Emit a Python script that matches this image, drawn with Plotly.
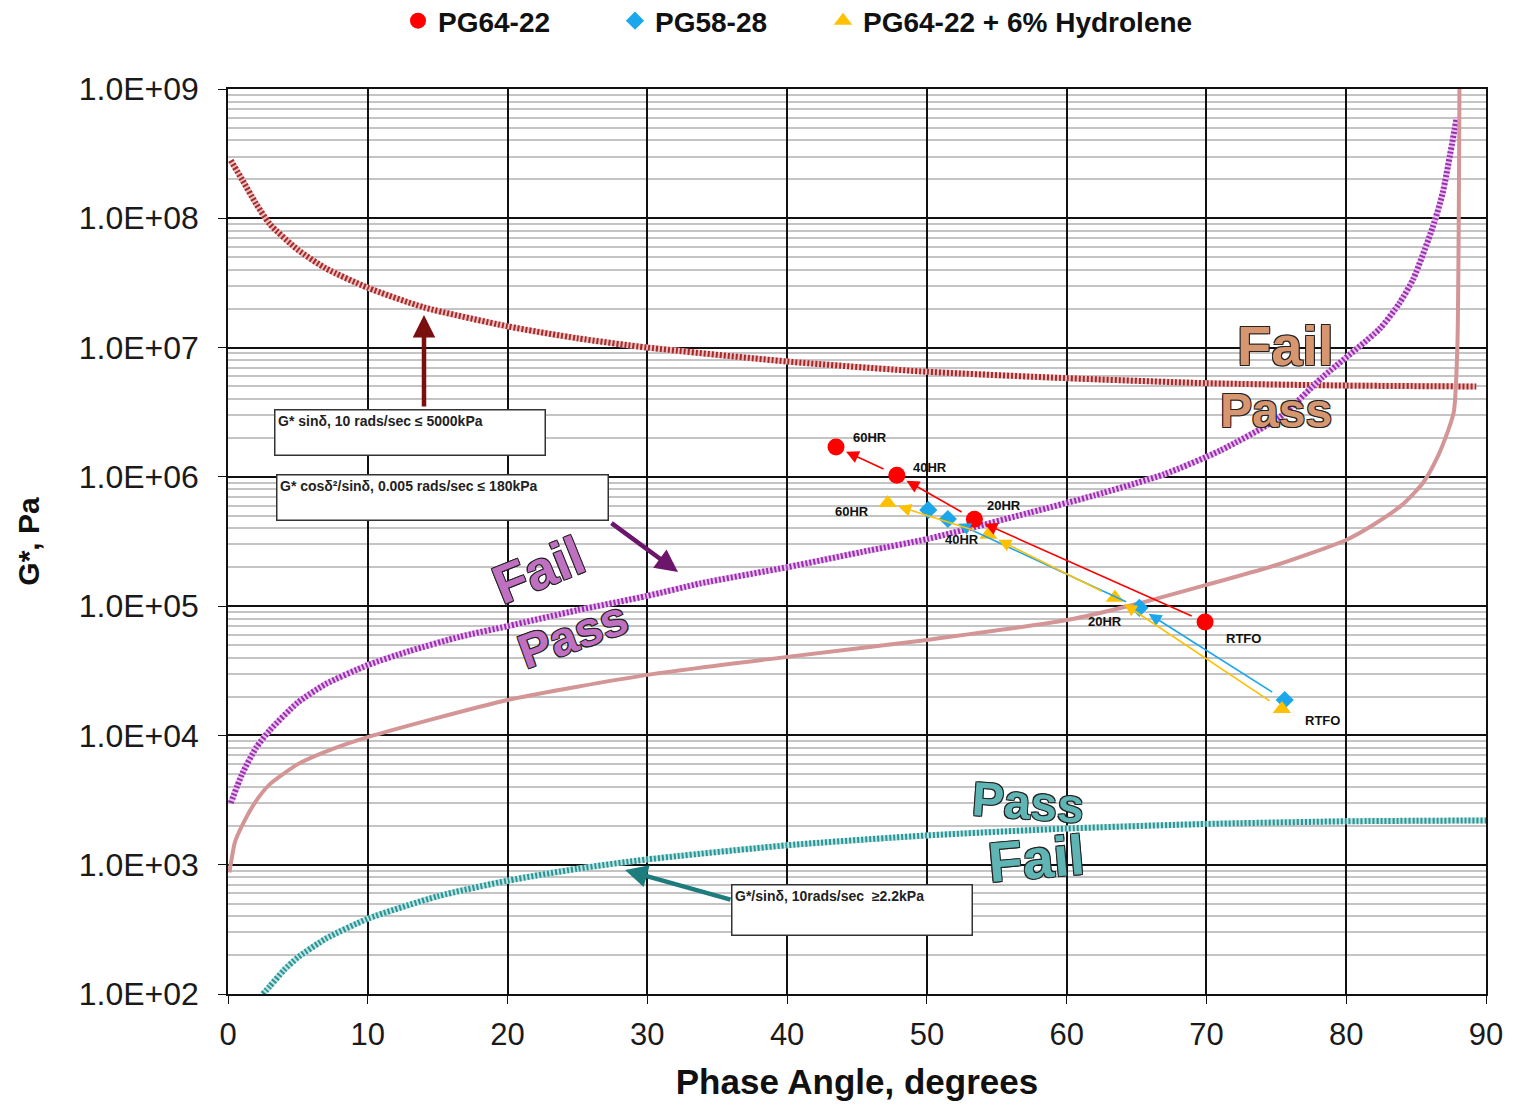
import numpy as np
import plotly.graph_objects as go

# ---------------- data ----------------
series_names = ["PG64-22", "PG58-28", "PG64-22 + 6% Hydrolene"]
aging_labels = ["RTFO", "20HR", "40HR", "60HR"]

pg6422_delta = [69.9, 53.4, 47.85, 43.5]
pg6422_gstar = [7.55e4, 4.7e5, 1.03e6, 1.70e6]

pg5828_delta = [75.6, 65.2, 51.5, 50.1]
pg5828_gstar = [1.88e4, 9.7e4, 4.72e5, 5.55e5]

hyd_delta = [75.4, 63.45, 54.4, 47.2]
hyd_gstar = [1.6e4, 1.16e5, 3.56e5, 6.28e5]

# G* sin(delta) <= 5000 kPa criterion curve
crit5000_delta = [0.2, 1, 2, 3, 5, 7, 10, 14, 20, 25, 30, 40, 50, 60, 70, 80, 89.3]
crit5000_gstar = [2.8e8, 2.0e8, 1.3e8, 9.0e7, 5.7e7, 4.1e7, 2.9e7, 2.05e7, 1.46e7, 1.18e7,
                  1.0e7, 7.8e6, 6.5e6, 5.8e6, 5.3e6, 5.08e6, 5.0e6]

# G* cos(delta)^2 / sin(delta) <= 180 kPa criterion curve
crit180_delta = [0.2, 1, 2, 3, 5, 7, 10, 13, 16.6, 20, 25, 30, 33.8, 40, 45.9, 50, 57.4,
                 62, 67, 71, 75.25, 78.3, 82.4, 83.8, 84.8, 86.2, 86.9, 87.9]
crit180_gstar = [3.0e3, 5.0e3, 8.0e3, 1.1e4, 1.8e4, 2.5e4, 3.5e4, 4.5e4, 5.8e4, 7.0e4, 9.3e4,
                 1.2e5, 1.5e5, 2.0e5, 2.7e5, 3.3e5, 5.3e5, 7.2e5, 1.05e6, 1.6e6, 2.9e6,
                 5.9e6, 1.4e7, 2.2e7, 3.4e7, 8.6e7, 1.57e8, 6.0e8]

# unlabeled solid pink curve
pink_delta = [0.1, 0.5, 1, 2, 3, 5, 7, 10, 20, 30, 40, 50, 60, 65, 70, 75, 80, 82, 84,
              85.5, 86.5, 87.3, 87.7, 87.95, 88.1]
pink_gstar = [8.7e2, 1.5e3, 2.0e3, 3.1e3, 4.2e3, 6.0e3, 7.5e3, 9.7e3, 1.88e4, 2.94e4,
              4.05e4, 5.48e4, 7.8e4, 1.04e5, 1.46e5, 2.08e5, 3.25e5, 4.3e5, 6.07e5,
              9.0e5, 1.4e6, 2.3e6, 3.2e6, 1.0e7, 1.0e9]

# G*/sin(delta) >= 2.2 kPa criterion curve
crit22_delta = [2.5, 3, 4, 5, 7, 10, 15, 20, 25, 30, 40, 50, 60, 70, 80, 90]
crit22_gstar = [100, 115, 153, 192, 268, 382, 570, 752, 930, 1100, 1414, 1685, 1905,
                2067, 2167, 2200]

x_tickvals = [0, 10, 20, 30, 40, 50, 60, 70, 80, 90]
y_tickvals = [1e2, 1e3, 1e4, 1e5, 1e6, 1e7, 1e8, 1e9]
y_ticktext = ["1.0E+02", "1.0E+03", "1.0E+04", "1.0E+05", "1.0E+06", "1.0E+07",
              "1.0E+08", "1.0E+09"]

# ---------------- styling ----------------
W, H = 1517, 1106
L, R, T, B = 228, 31, 89, 112
PW, PH = W - L - R, H - T - B
FONT = "Liberation Sans, Arial, sans-serif"


def px(xp):
    return (xp - L) / PW


def py(yp):
    return (H - B - yp) / PH


series = [
    (series_names[0], pg6422_delta, pg6422_gstar, "#ff0000", "circle", 17, "legend", 398),
    (series_names[1], pg5828_delta, pg5828_gstar, "#1aa7ec", "diamond", 14, "legend2", 615),
    (series_names[2], hyd_delta, hyd_gstar, "#ffc000", "triangle-up", 16, "legend3", 823),
]

fig = go.Figure()


def add_hatched(xs, ys, dark, light, width=6):
    fig.add_trace(go.Scatter(x=xs, y=ys, mode="lines",
                             line=dict(color=light, width=width, shape="spline", smoothing=0.6),
                             showlegend=False, hoverinfo="skip"))
    fig.add_trace(go.Scatter(x=xs, y=ys, mode="lines",
                             line=dict(color=dark, width=width, dash="2px,2px", shape="spline", smoothing=0.6),
                             showlegend=False, hoverinfo="skip"))


add_hatched(crit5000_delta, crit5000_gstar, "#a52a2a", "#ecc0c0")
add_hatched(crit180_delta, crit180_gstar, "#9a2fae", "#e8c2ee")
add_hatched(crit22_delta, crit22_gstar, "#2a9595", "#c0e4e4")
fig.add_trace(go.Scatter(x=pink_delta, y=pink_gstar, mode="lines",
                         line=dict(color="#d39595", width=4, shape="spline", smoothing=0.6),
                         showlegend=False, hoverinfo="skip"))

for name, d, g, col, sym, sz, lg, _ in series:
    fig.add_trace(go.Scatter(x=d, y=g, mode="markers", name=name, legend=lg,
                             marker=dict(color=col, symbol=sym, size=sz, line=dict(width=0))))

# arrows between aging states
for name, d, g, col, sym, sz, lg, _ in series:
    for i in range(len(d) - 1):
        fig.add_annotation(x=d[i + 1], y=np.log10(g[i + 1]), ax=d[i], ay=np.log10(g[i]),
                           xref="x", yref="y", axref="x", ayref="y", text="",
                           showarrow=True, arrowhead=2, arrowsize=1.6, arrowwidth=1.6,
                           arrowcolor=col, standoff=11, startstandoff=13)

# point labels: (series index, point index, xshift, yshift)
label_specs = [(0, 3, 34, 10), (0, 2, 33, 8), (0, 1, 30, 14), (0, 0, 38, -17),
               (2, 3, -36, -9), (2, 2, -26, -5), (2, 1, -10, -24), (1, 0, 38, -21)]
for si, pi, xs, ys in label_specs:
    d, g = series[si][1], series[si][2]
    fig.add_annotation(x=d[pi], y=np.log10(g[pi]), xref="x", yref="y", text=aging_labels[pi],
                       showarrow=False, xshift=xs, yshift=ys, xanchor="center", yanchor="middle",
                       font=dict(family=FONT, size=13, color="#111", weight="bold"))

# criterion text boxes
boxes = [
    ("G* sinδ, 10 rads/sec ≤ 5000kPa", 275, 545, 410, 455),
    ("G* cosδ²/sinδ, 0.005 rads/sec ≤ 180kPa", 277, 608, 475, 520),
    ("G*/sinδ, 10rads/sec  ≥2.2kPa", 732, 972, 885, 935),
]
for txt, x0, x1, y0, y1 in boxes:
    fig.add_annotation(x=px((x0 + x1) / 2), y=py((y0 + y1) / 2), xref="paper", yref="paper",
                       xanchor="center", yanchor="middle",
                       text=txt, showarrow=False, width=x1 - x0 - 6, height=y1 - y0 - 6,
                       align="left", valign="top", bgcolor="white", bordercolor="#333",
                       borderwidth=1.5, borderpad=2.5,
                       font=dict(family=FONT, size=14, color="#222", weight="bold"))

# pointer arrows from boxes to curves
pointers = [(424, 315, 0, 93, "#7a0f0f"), (678, 572, -68, -50, "#6b156b"), (625, 870, 107, 30, "#1d7d7d")]
for xp, yp, ax, ay, col in pointers:
    fig.add_annotation(x=px(xp), y=py(yp), xref="paper", yref="paper", text="", showarrow=True,
                       ax=ax, ay=ay, arrowhead=2, arrowsize=1.0, arrowwidth=4.5, arrowcolor=col)

# Fail / Pass word art
outline = "-1px -1px 0 #222, 1px -1px 0 #222, -1px 1px 0 #222, 1px 1px 0 #222"
words = [
    ("Fail", 1285, 345, 0, 56, "#d69670"),
    ("Pass", 1276, 410, 0, 48, "#d69670"),
    ("Fail", 538, 570, -22, 54, "#c070c0"),
    ("Pass", 573, 635, -20, 48, "#c070c0"),
    ("Pass", 1028, 802, 4, 48, "#5fb4b4"),
    ("Fail", 1036, 858, -5, 56, "#5fb4b4"),
]
for w, xp, yp, ang, sz, col in words:
    fig.add_annotation(x=px(xp), y=py(yp), xref="paper", yref="paper", text=w, showarrow=False,
                       xanchor="center", yanchor="middle", textangle=ang,
                       font=dict(family=FONT, size=sz, color=col, weight="bold", shadow=outline))

legend_common = dict(orientation="h", xref="container", yref="container", xanchor="left",
                     y=0.981, yanchor="middle", itemwidth=30, bgcolor="rgba(0,0,0,0)",
                     font=dict(family=FONT, size=28, color="#111", weight="bold"))
legends = {}
for s in series:
    legends[s[6]] = dict(legend_common, x=s[7] / W)

fig.update_layout(
    width=W, height=H, autosize=False,
    margin=dict(l=L, r=R, t=T, b=B),
    paper_bgcolor="white", plot_bgcolor="white",
    font=dict(family=FONT, color="#111"),
    showlegend=True,
    **legends,
    xaxis=dict(range=[0, 90], tickvals=x_tickvals, showgrid=True, gridcolor="#111", gridwidth=1.6,
               showline=True, linecolor="#111", linewidth=1.6, mirror=True, zeroline=False,
               ticks="outside", ticklen=8, tickcolor="#111", ticklabelstandoff=4,
               tickfont=dict(family=FONT, size=31, color="#1a1a1a"),
               title=dict(text="Phase Angle, degrees", standoff=18,
                          font=dict(family=FONT, size=35, color="#111", weight="bold"))),
    yaxis=dict(type="log", range=[2, 9], tickvals=y_tickvals, ticktext=y_ticktext,
               showgrid=True, gridcolor="#111", gridwidth=1.6,
               minor=dict(dtick="D1", showgrid=True, gridcolor="#c4c4c4", gridwidth=1.5, ticks=""),
               showline=True, linecolor="#111", linewidth=1.6, mirror=True, zeroline=False,
               ticks="outside", ticklen=8, tickcolor="#111", ticklabelstandoff=13,
               tickfont=dict(family=FONT, size=32, color="#1a1a1a"),
               title=dict(text="G*, Pa", standoff=30,
                          font=dict(family=FONT, size=30, color="#111", weight="bold"))),
)

fig.write_html("out.html")
